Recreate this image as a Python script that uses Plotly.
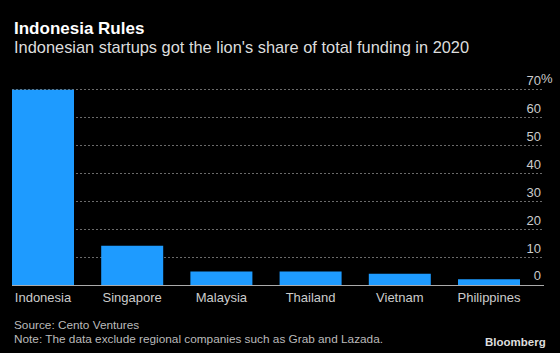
import plotly.graph_objects as go

countries = ["Indonesia", "Singapore", "Malaysia", "Thailand", "Vietnam", "Philippines"]
shares = [69.9, 14.0, 4.85, 4.85, 4.0, 2.05]
y_ticks = [0, 10, 20, 30, 40, 50, 60, 70]
y_tick_text = ["0", "10", "20", "30", "40", "50", "60", "70"]

BG = "#000000"
BAR = "#1E9BFF"
FONT = "Liberation Sans"

W, H = 560, 353
left, right = 12, 544
y0px, y70px = 285, 89
ppu = (y0px - y70px) / 70.0
ymax = 78
top_px = y0px - ymax * ppu
plot_w = right - left
plot_h = y0px - top_px

# category axis range so that bars land where the reference places them
band = 89.2
first_center = 43
x_lo = (left - first_center) / band
x_hi = (right - first_center) / band


def px_x(x):
    return (x - left) / plot_w


def px_y(y):
    return (y0px - y) / plot_h


fig = go.Figure()
fig.add_trace(go.Bar(
    x=list(range(len(countries))), y=shares,
    width=0.695, marker=dict(color=BAR, line=dict(width=0)),
    hoverinfo="skip",
))

fig.update_layout(
    width=W, height=H,
    paper_bgcolor=BG, plot_bgcolor=BG,
    margin=dict(l=left, r=W - right, t=top_px, b=H - y0px, autoexpand=False),
    showlegend=False,
    xaxis=dict(
        range=[x_lo, x_hi],
        tickvals=list(range(len(countries))), ticktext=countries,
        showgrid=False, zeroline=False,
        showline=True, linecolor="#AAAAAA", linewidth=1,
        ticks="", tickfont=dict(family=FONT, size=13, color="#CCCCCC"),
    ),
    yaxis=dict(
        range=[0, ymax], side="right",
        tickvals=y_ticks, ticktext=y_tick_text,
        ticklabelposition="inside top",
        showgrid=True, gridcolor="#6A6A6A", griddash="2px,2px", gridwidth=1,
        zeroline=False, showline=False, ticks="",
        tickfont=dict(family=FONT, size=13, color="#CCCCCC"),
    ),
    annotations=[
        dict(text="<b>Indonesia Rules</b>", x=px_x(12), y=px_y(28), xref="paper", yref="paper",
             xanchor="left", yanchor="middle", showarrow=False,
             font=dict(family=FONT, size=17, color="#FFFFFF")),
        dict(text="Indonesian startups got the lion's share of total funding in 2020",
             x=px_x(12), y=px_y(46.5), xref="paper", yref="paper",
             xanchor="left", yanchor="middle", showarrow=False,
             font=dict(family=FONT, size=16.4, color="#DDDDDD")),
        dict(text="%", x=px_x(539), y=70, xref="paper", yref="y", xanchor="left", yanchor="middle",
             showarrow=False, yshift=11,
             font=dict(family=FONT, size=13, color="#CCCCCC")),
        dict(text="Source: Cento Ventures", x=px_x(12), y=px_y(325.5), xref="paper", yref="paper",
             xanchor="left", yanchor="middle", showarrow=False,
             font=dict(family=FONT, size=11.8, color="#BBBBBB")),
        dict(text="Note: The data exclude regional companies such as Grab and Lazada.",
             x=px_x(12), y=px_y(339), xref="paper", yref="paper",
             xanchor="left", yanchor="middle", showarrow=False,
             font=dict(family=FONT, size=11.8, color="#BBBBBB")),
        dict(text="<b>Bloomberg</b>", x=px_x(548), y=px_y(342), xref="paper", yref="paper",
             xanchor="right", yanchor="middle", showarrow=False,
             font=dict(family=FONT, size=11.5, color="#DDDDDD")),
    ],
)

fig.write_html("out.html")
